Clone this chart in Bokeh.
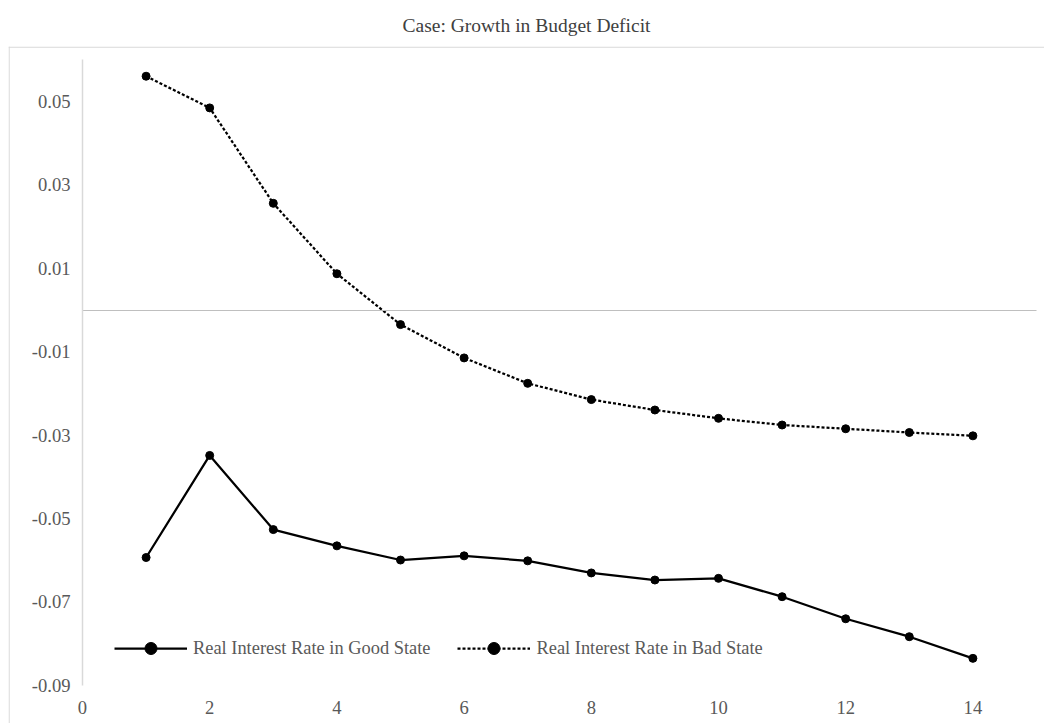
import math
from bokeh.plotting import figure
from bokeh.models import (Span, Legend, LegendItem, FixedTicker, LinearAxis,
                          PrintfTickFormatter, ColumnDataSource, Range1d)
from bokeh.embed import file_html
from bokeh.resources import INLINE

# ---- data ----
periods = list(range(1, 15))
good_state = [-0.0594, -0.0349, -0.0527, -0.0566, -0.0600, -0.0590, -0.0602,
              -0.0631, -0.0648, -0.0644, -0.0688, -0.0741, -0.0784, -0.0836]
bad_state = [0.0561, 0.0485, 0.0256, 0.0087, -0.0035, -0.0115, -0.0176,
             -0.0215, -0.0240, -0.0260, -0.0276, -0.0285, -0.0294, -0.0302]
y_ticks = [-0.09, -0.07, -0.05, -0.03, -0.01, 0.01, 0.03, 0.05]
x_ticks = [0, 2, 4, 6, 8, 10, 12, 14]
title_text = "Case: Growth in Budget Deficit"
label_good = "Real Interest Rate in Good State"
label_bad = "Real Interest Rate in Bad State"

FONT = "Liberation Serif"
GRAY = "#595959"
DASH = "3 2"

W, H = 1044, 723
TOP = 46         # canvas y of chart-area top border
LEFT = 8         # canvas x of chart-area left border
PX_X = 63.6      # pixels per x unit
PX_Y = 4167.0    # pixels per y unit
X0 = 82          # canvas x of x=0
Y0 = 309.5       # canvas y of y=0

x_start = -(X0 - LEFT) / PX_X
x_end = (W - X0) / PX_X
y_end = (Y0 - TOP) / PX_Y
y_start = -(H - Y0) / PX_Y

p = figure(width=W, height=H,
           x_range=Range1d(x_start, x_end), y_range=Range1d(y_start, y_end),
           toolbar_location=None, output_backend="svg",
           min_border_left=LEFT, min_border_right=0,
           min_border_top=TOP, min_border_bottom=0,
           title=title_text)
p.outline_line_color = None
p.xgrid.visible = False
p.ygrid.visible = False
p.background_fill_color = "white"
p.border_fill_color = "white"

p.title.align = "center"
p.title.offset = 11
p.title.standoff = 22
p.title.text_font = FONT
p.title.text_font_size = "19.5px"
p.title.text_font_style = "normal"
p.title.text_color = "#404040"

# outer chart-area border (top and left)
p.add_layout(Span(location=x_start + 0.6 / PX_X, dimension="height",
                  line_color="#d9d9d9", line_width=1.2))
p.add_layout(Span(location=y_end - 0.6 / PX_Y, dimension="width",
                  line_color="#d9d9d9", line_width=1.2))

src = ColumnDataSource(dict(x=periods, good=good_state, bad=bad_state))
p.line("x", "good", source=src, line_color="black", line_width=2.25)
p.scatter("x", "good", source=src, size=8, fill_color="black", line_color="black")
p.line("x", "bad", source=src, line_color="black", line_width=2.25, line_dash=DASH)
p.scatter("x", "bad", source=src, size=8, fill_color="black", line_color="black")

# legend proxies (never visible on the plot)
proxy = ColumnDataSource(dict(x=[math.nan], y=[math.nan]))
lg1 = p.line("x", "y", source=proxy, line_color="black", line_width=2.25)
ls1 = p.scatter("x", "y", source=proxy, fill_color="black", line_color="black")
lg2 = p.line("x", "y", source=proxy, line_color="black", line_width=2.25, line_dash=DASH)
ls2 = p.scatter("x", "y", source=proxy, fill_color="black", line_color="black")

legend = Legend(items=[LegendItem(label=label_good, renderers=[lg1, ls1]),
                       LegendItem(label=label_bad, renderers=[lg2, ls2])],
                orientation="horizontal", location=(106, 60),
                glyph_width=73, glyph_height=30, label_standoff=6, spacing=27,
                padding=0, margin=0, border_line_color=None,
                background_fill_alpha=0,
                label_text_font=FONT, label_text_font_size="18.4px",
                label_text_color=GRAY)
p.add_layout(legend)

# y axis, fixed at x = 0
ya = p.yaxis[0]
ya.fixed_location = 0
ya.bounds = (-0.09, 0.06)
ya.ticker = FixedTicker(ticks=y_ticks)
ya.formatter = PrintfTickFormatter(format="%.2f")
ya.axis_line_color = "#d9d9d9"
ya.axis_line_width = 1.5
ya.major_tick_line_color = None
ya.minor_tick_line_color = None
ya.major_tick_out = 0
ya.major_tick_in = 0
ya.major_label_standoff = 12
ya.major_label_text_font = FONT
ya.major_label_text_font_size = "18.6px"
ya.major_label_text_color = GRAY

# x axis labels, fixed at bottom of value range
xa = p.xaxis[0]
xa.fixed_location = -0.09
xa.ticker = FixedTicker(ticks=x_ticks)
xa.formatter = PrintfTickFormatter(format="%d")
xa.axis_line_color = None
xa.major_tick_line_color = None
xa.minor_tick_line_color = None
xa.major_tick_out = 0
xa.major_tick_in = 0
xa.major_label_standoff = 16
xa.major_label_text_font = FONT
xa.major_label_text_font_size = "18.6px"
xa.major_label_text_color = GRAY

# horizontal axis line crossing at zero
zero_axis = LinearAxis(fixed_location=0, bounds=(0, 15),
                       ticker=FixedTicker(ticks=[]),
                       axis_line_color="#bfbfbf", axis_line_width=1,
                       major_tick_line_color=None, minor_tick_line_color=None,
                       major_label_text_alpha=0)
p.add_layout(zero_axis, "below")

open("out.html", "w").write(file_html(p, INLINE))
